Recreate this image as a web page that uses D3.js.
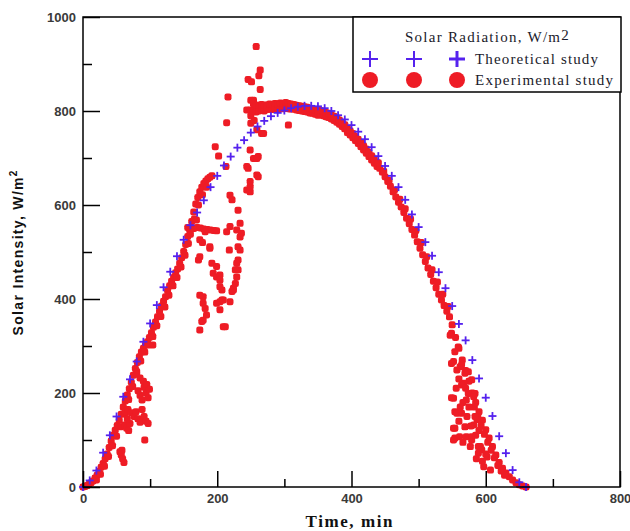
<!DOCTYPE html>
<html>
<head>
<meta charset="utf-8">
<script src="https://cdn.jsdelivr.net/npm/d3@7"></script>
<style>
  body { margin: 0; background: #fff; }
</style>
</head>
<body>
<svg id="chart" width="630" height="531"></svg>
<script>
// Theoretical study, one cross every 10 min
const theoryTime = [0, 10, 20, 30, 40, 50, 60, 70, 80, 90, 100, 110, 120, 130, 140, 150, 160, 170, 180, 190,
  200, 210, 220, 230, 240, 250, 260, 270, 280, 290, 300, 310, 320, 330, 340, 350, 360, 370, 380, 390,
  400, 410, 420, 430, 440, 450, 460, 470, 480, 490, 500, 510, 520, 530, 540, 550, 560, 570, 580, 590,
  600, 610, 620, 630, 640, 650, 660];
const theoryValue = [0, 14, 35, 73, 110, 150, 192, 229, 267, 309, 348, 387, 425, 458, 491, 526, 557, 584, 610, 638,
  662, 684, 703, 722, 738, 754, 767, 779, 789, 796, 801, 806, 809, 811, 811, 810, 806, 800, 791, 782,
  770, 756, 740, 723, 704, 683, 662, 638, 611, 580, 553, 521, 492, 457, 423, 385, 347, 312, 270, 231,
  190, 151, 108, 72, 36, 10, 0];

// Experimental study, [time (min), intensity (W/m2)]
const expRising = [[0,0],[3,1],[6,3],[9,6],[12,9],[15,13],[18,19],[21,25],[24,33],[27,42],[30,50],[33,60],[36,70],
  [39,84],[42,98],[45,110],[48,121],[51,131],[54,142],[57,155],[60,170],[63,183],[66,196],[69,209],[72,223],
  [75,238],[78,252],[81,265],[84,277],[87,287],[90,295],[93,302],[96,309],[99,318],[102,328],[105,340],[108,351],
  [111,362],[114,374],[117,385],[120,395],[123,405],[126,418],[129,428],[132,438],[135,446],[138,456],[141,464],
  [144,476],[147,488],[150,501],[153,516],[156,533],[159,546],[162,565],[165,585],[168,602],[171,616],[174,628],
  [177,638],[180,646],[183,651],[186,656],[189,659],[192,662],
  [20,15],[26,27],[32,44],[38,65],[44,88],[50,108],[56,128],[62,156],[68,186],[74,214],[80,246],[86,268],[92,287],
  [98,302],[104,320],[110,343],[116,363],[122,383],[128,408],[134,428],[140,446],[146,468],[152,493],[157,518],
  [156,552],[160,538],[166,570],[172,600],[178,622],[184,638]];

const expLowScatter = [[55,75],[57,68],[59,60],[61,52],[58,78],[62,132],[65,125],[68,120],[70,135],[66,145],[63,160],
  [67,165],[72,158],[76,150],[79,160],[82,145],[85,138],[88,165],[91,150],[94,140],[97,135],[92,100],[82,205],
  [85,195],[88,185],[91,212],[94,200],[97,190],[80,240],[85,232],[90,225],[95,218],[99,208],[104,302]];

const expCloudScatter = [[165,550],[170,552],[175,551],[180,549],[185,548],[190,547],[195,546],[199,545],[182,543],
  [169,568],[172,483],[174,490],[174,526],[178,520],[189,508],[189,511],[192,476],[194,455],[199,447],[199,469],
  [204,451],[204,426],[207,419],[207,398],[204,394],[212,341],[209,341],[174,334],[177,352],[179,405],[174,408],
  [179,391],[179,355],[184,366],[182,380],[199,391],[209,398],[219,394],[204,377],[204,440],[224,423],
  [214,543],[218,504],[219,554],[219,621],[222,611],[231,589],[234,561],[229,547],[236,540],[234,532],[234,504],
  [231,511],[231,483],[229,476],[231,462],[227,462],[229,447],[227,433],[224,419],[222,416],
  [197,724],[202,704],[213,682],[216,830],[214,775],
  [244,632],[249,628],[249,639],[249,650],[259,664],[261,660],[246,678],[244,682],[254,699],[259,699],[261,703],
  [249,717],[259,760],[266,752],[269,752],[250,774],[255,780],
  [244,802],[249,802],[254,823],[250,823],[246,867],[251,862],[264,846],[264,887],[258,937],[262,875],[306,770]];

const expPeak = [[250,790],[254,800],[254,815],[258,798],[258,812],[262,800],[262,812],[266,802],[266,814],[270,800],
  [270,812],[274,803],[274,813],[278,804],[278,815],[282,803],[282,814],[286,805],[286,816],[290,804],[290,815],
  [294,806],[294,817],[298,805],[298,816],[302,806],[302,818],[306,805],[306,816],[310,804],[310,815],[314,804],
  [314,814],[318,802],[318,812],[322,801],[322,811],[326,800],[326,810],[330,799],[330,809],[334,798],[334,808],
  [338,796],[338,806],[342,795],[342,804],[346,793],[346,802],[350,791],[350,800],[354,792],[354,801],[358,790],
  [358,799],[362,788],[362,797],[366,786],[366,795],[370,783],[370,792],[374,780],[374,789],[378,776],[378,785],
  [382,772],[382,781],[386,767],[386,776],[390,762],[390,771],[394,754],[394,763],[398,749],[398,758],[402,743],
  [402,752],[406,737],[406,746],[410,731],[410,740],[414,724],[414,733],[418,717],[418,726],[422,710],[422,719],
  [426,703],[426,712],[430,696],[430,705],[434,689],[434,698],[438,682],[438,690]];

const expFalling = [[442,678],[446,670],[450,660],[454,650],[458,640],[462,628],[466,617],[470,606],[474,596],
  [478,584],[482,572],[486,560],[490,548],[494,536],[498,522],[502,508],[506,494],[510,480],[514,466],[518,452],
  [522,438],[526,424],[530,410],[534,398],[538,386],[542,374],[546,362],[550,345],
  [440,690],[448,672],[456,652],[464,632],[472,612],[480,592],[488,570],[496,546],[504,520],[512,490],[520,462],
  [528,436],[536,410],[544,384],
  [555,318],[560,295],[565,270],[570,248],[575,225],[580,200],[585,180],[590,160],[595,142],[600,122],[605,104],
  [610,86],[615,68],[620,52],[625,40],[630,30],[635,22],[640,15],[645,9],[650,5],[655,2],[660,0],
  [583,170],[588,150],[593,130],[598,112],[603,95],[608,78],[613,62],[618,46],[623,34],[628,25]];

const expFallScatter = [[549,327],[547,323],[559,298],[554,288],[552,267],[549,263],[557,249],[562,256],[564,260],
  [574,245],[569,242],[567,221],[564,217],[579,228],[574,199],[584,199],[552,189],[549,190],[571,185],[582,192],
  [554,160],[557,157],[564,157],[587,143],[584,150],[569,128],[582,132],[552,125],[554,125],[554,104],[561,107],
  [571,107],[579,107],[552,100],[579,100],[577,86],[589,86],[592,86],[594,79],[589,72],[602,64],[597,43],[607,36],
  [560,140],[575,170],[566,180],[590,120],[585,110],[600,70],[595,55],[572,150],[578,130],[566,95],[586,60],
  [560,230],[570,210],[556,210],[562,170]];

const experimental = [].concat(expRising, expLowScatter, expCloudScatter, expPeak, expFalling, expFallScatter);

const xTicks = [0, 200, 400, 600, 800];
const xMinor = [100, 300, 500, 700];
const yTicks = [0, 200, 400, 600, 800, 1000];
const yMinor = [100, 300, 500, 700, 900];
const seriesNames = ['Theoretical study', 'Experimental study'];

const red = '#ee1c25';
const blue = '#5522ee';

const svg = d3.select('#chart');
const plot = { left: 83, right: 620, top: 17, bottom: 487 };

const x = d3.scaleLinear().domain([0, 800]).range([plot.left, plot.right]);
const y = d3.scaleLinear().domain([0, 1000]).range([plot.bottom, plot.top]);

// Experimental points
svg.append('g')
  .selectAll('rect')
  .data(experimental)
  .join('rect')
  .attr('x', d => x(d[0]) - 3.5)
  .attr('y', d => y(d[1]) - 3.5)
  .attr('width', 7)
  .attr('height', 7)
  .attr('rx', 2.2)
  .attr('fill', red);

// Theoretical crosses
const cross = (g, cx, cy, s, w) => {
  g.append('line').attr('x1', cx - s).attr('x2', cx + s).attr('y1', cy).attr('y2', cy)
    .attr('stroke', blue).attr('stroke-width', w);
  g.append('line').attr('x1', cx).attr('x2', cx).attr('y1', cy - s).attr('y2', cy + s)
    .attr('stroke', blue).attr('stroke-width', w);
};
const theoryG = svg.append('g');
theoryTime.forEach((t, i) => cross(theoryG, x(t), y(theoryValue[i]), 4, 1.8));

// Axes with inward ticks
const styleAxis = g => {
  g.select('.domain').remove();
  g.selectAll('.tick line').attr('stroke', '#000').attr('stroke-width', 1.5);
  g.selectAll('.tick text')
    .attr('font-family', 'Liberation Sans, Arial, sans-serif')
    .attr('font-size', 13)
    .attr('font-weight', 'bold')
    .attr('fill', '#3a3a3a');
};

svg.append('g')
  .attr('transform', `translate(0,${plot.bottom})`)
  .call(d3.axisBottom(x).tickValues(xTicks).tickSize(-16).tickPadding(7).tickFormat(d3.format('d')))
  .call(styleAxis);
svg.append('g')
  .attr('transform', `translate(0,${plot.bottom})`)
  .call(d3.axisBottom(x).tickValues(xMinor).tickSize(-8).tickFormat(''))
  .call(styleAxis);

svg.append('g')
  .attr('transform', `translate(${plot.left},0)`)
  .call(d3.axisLeft(y).tickValues(yTicks).tickSize(-17).tickPadding(7).tickFormat(d3.format('d')))
  .call(styleAxis);
svg.append('g')
  .attr('transform', `translate(${plot.left},0)`)
  .call(d3.axisLeft(y).tickValues(yMinor).tickSize(-9).tickFormat(''))
  .call(styleAxis);

// Frame
svg.append('rect')
  .attr('x', plot.left).attr('y', plot.top)
  .attr('width', plot.right - plot.left).attr('height', plot.bottom - plot.top)
  .attr('fill', 'none').attr('stroke', '#000').attr('stroke-width', 1.5);

// Axis titles
svg.append('text')
  .attr('x', 349).attr('y', 527)
  .attr('text-anchor', 'middle')
  .attr('font-family', 'Liberation Serif, Times New Roman, serif')
  .attr('font-weight', 'bold')
  .attr('font-size', 17)
  .attr('textLength', 87)
  .attr('fill', '#111')
  .text('Time, min');

const yTitle = svg.append('text')
  .attr('transform', 'translate(23,253) rotate(-90)')
  .attr('text-anchor', 'middle')
  .attr('font-family', 'Liberation Sans, Arial, sans-serif')
  .attr('font-weight', 'bold')
  .attr('font-size', 14)
  .attr('fill', '#111');
yTitle.append('tspan').attr('textLength', 158).text('Solar Intensity, W/m');
yTitle.append('tspan').attr('dy', -6).attr('font-size', 10).text('2');

// Legend
const legend = svg.append('g');
legend.append('rect')
  .attr('x', 353).attr('y', 17).attr('width', 268).attr('height', 75)
  .attr('fill', '#fff').attr('stroke', '#000').attr('stroke-width', 1.5);

const legendFont = 'Liberation Serif, Times New Roman, serif';
const lt = legend.append('text')
  .attr('x', 405).attr('y', 42)
  .attr('font-family', legendFont).attr('font-size', 15).attr('fill', '#1a1a2a');
lt.append('tspan').attr('textLength', 155).text('Solar Radiation, W/m');
lt.append('tspan').attr('dy', -2).text('2');

const markerX = [370, 414, 457];
markerX.forEach((mx, i) => cross(legend, mx, 59, 8, i === 2 ? 3 : 2));
markerX.forEach(mx => legend.append('circle').attr('cx', mx).attr('cy', 80).attr('r', 8).attr('fill', red));

const legendWidths = [123, 138];
seriesNames.forEach((name, i) => {
  legend.append('text')
    .attr('x', 475).attr('y', 64 + i * 21)
    .attr('font-family', legendFont).attr('font-size', 15).attr('fill', '#1a1a2a')
    .attr('textLength', legendWidths[i])
    .text(name);
});
</script>
</body>
</html>
